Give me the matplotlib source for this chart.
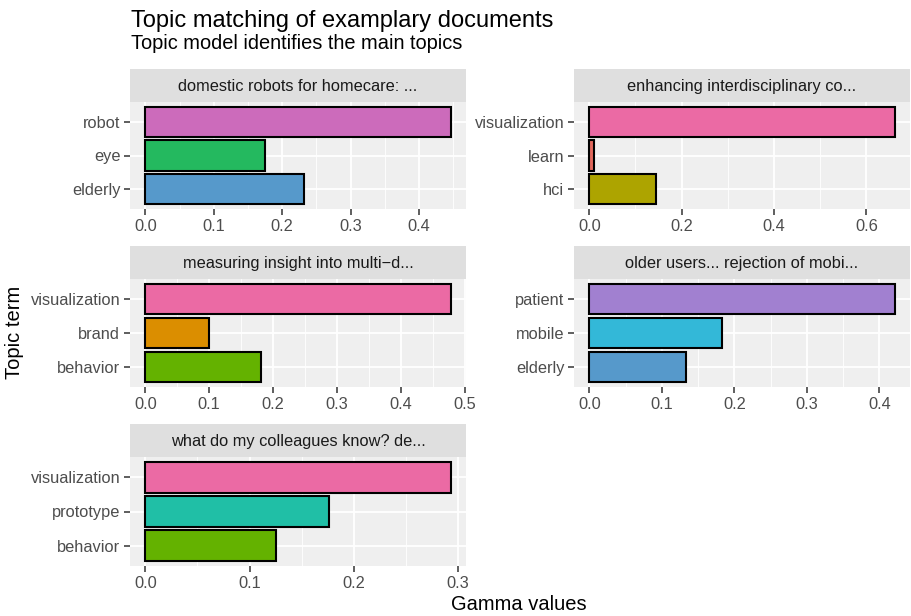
import numpy as np
import matplotlib
matplotlib.use("Agg")
import matplotlib.pyplot as plt
from matplotlib.ticker import MultipleLocator, FormatStrFormatter

plt.rcParams['font.family'] = ['Liberation Sans', 'DejaVu Sans']

# data: terms listed bottom -> top within each facet
titles = ["domestic robots for homecare: ...",
          "enhancing interdisciplinary co...",
          "measuring insight into multi\u2212d...",
          "older users... rejection of mobi...",
          "what do my colleagues know? de..."]
terms = [["elderly", "eye", "robot"],
         ["hci", "learn", "visualization"],
         ["behavior", "brand", "visualization"],
         ["elderly", "mobile", "patient"],
         ["behavior", "prototype", "visualization"]]
gammas = [[0.232, 0.175, 0.446],
          [0.144, 0.0095, 0.6615],
          [0.181, 0.100, 0.478],
          [0.134, 0.183, 0.421],
          [0.125, 0.176, 0.293]]
tick_steps = [0.1, 0.2, 0.1, 0.1, 0.1]

term_colors = {
    "robot": "#CC6BBB", "eye": "#24B95F", "elderly": "#5699CB",
    "visualization": "#EB6AA4", "learn": "#E2695E", "hci": "#ADA400",
    "brand": "#DB8E00", "behavior": "#64B200", "patient": "#A180D0",
    "mobile": "#33B8D8", "prototype": "#20BFA6",
}

W, H = 911, 616
fig = plt.figure(figsize=(W / 100, H / 100), dpi=100)

def box(x0, y0, x1, y1):
    # pixel box (top-left origin) -> figure fraction rect
    return [x0 / W, 1 - y1 / H, (x1 - x0) / W, (y1 - y0) / H]

cols = [(130, 466), (574, 910)]
rows = [(69, 102, 209), (246, 279, 387), (424, 457, 566)]

for i in range(5):
    r, c = divmod(i, 2)
    x0, x1 = cols[c]
    st, pt, pb = rows[r]

    sax = fig.add_axes(box(x0, st, x1, pt))
    sax.set_facecolor("#DFDFDF")
    sax.set_xticks([]); sax.set_yticks([])
    for s in sax.spines.values():
        s.set_visible(False)
    sax.text(0.5, 0.48, titles[i], ha="center", va="center", fontsize=11.8,
             color="#1A1A1A", transform=sax.transAxes)

    ax = fig.add_axes(box(x0, pt, x1, pb))
    ax.set_facecolor("#EFEFEF")
    ypos = np.arange(len(terms[i]))
    ax.barh(ypos, gammas[i], height=0.9,
            color=[term_colors[t] for t in terms[i]],
            edgecolor="black", linewidth=1.5, zorder=3)
    m = max(gammas[i])
    ax.set_xlim(-0.05 * m, 1.05 * m)
    ax.set_ylim(-0.6, len(terms[i]) - 0.4)
    ax.set_yticks(ypos)
    ax.set_yticklabels(terms[i])
    ax.xaxis.set_major_locator(MultipleLocator(tick_steps[i]))
    ax.xaxis.set_minor_locator(MultipleLocator(tick_steps[i] / 2))
    ax.xaxis.set_major_formatter(FormatStrFormatter('%.1f'))
    ax.grid(which="major", color="white", linewidth=1.3, zorder=0)
    ax.grid(which="minor", axis="x", color="white", linewidth=0.6, zorder=0)
    ax.set_axisbelow(True)
    for s in ax.spines.values():
        s.set_visible(False)
    ax.tick_params(which="major", length=4, width=1.1, color="#333333",
                   labelcolor="#4D4D4D", labelsize=11.8, pad=3)
    ax.tick_params(which="minor", length=0)

fig.text(131 / W, 1 - 27 / H, "Topic matching of examplary documents",
         fontsize=17, color="black", ha="left", va="baseline")
fig.text(131 / W, 1 - 49 / H, "Topic model identifies the main topics",
         fontsize=14.4, color="black", ha="left", va="baseline")
fig.text(519 / W, 1 - 604 / H, "Gamma values", fontsize=14.5,
         ha="center", va="center")
fig.text(15 / W, 1 - 332 / H, "Topic term", fontsize=14.5,
         ha="center", va="center", rotation=90)

fig.savefig("out.png", dpi=100)
